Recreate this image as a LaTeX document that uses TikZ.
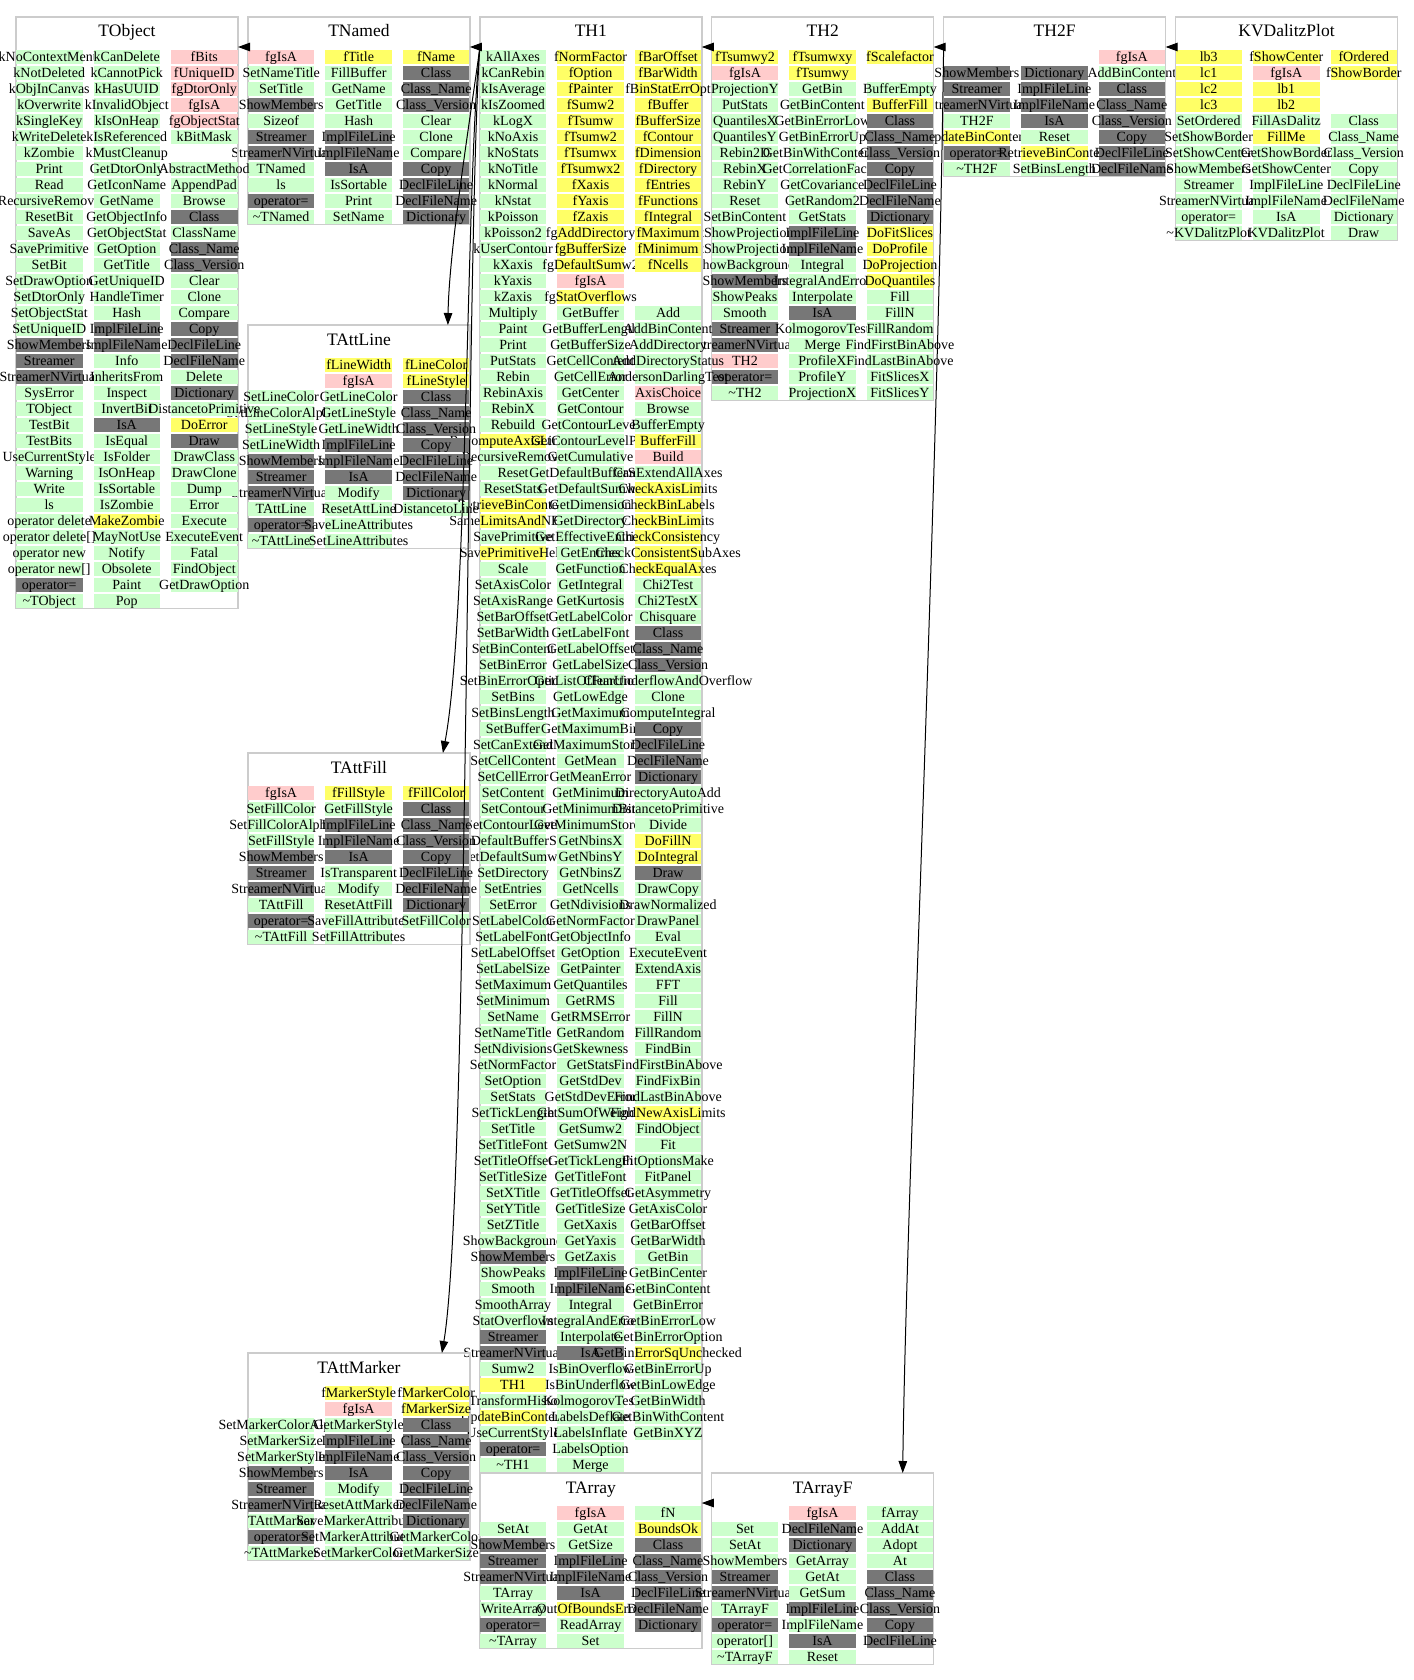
\documentclass[tikz,border=0pt]{standalone}
\usepackage{fontspec}
\setmainfont{Liberation Serif}
\usetikzlibrary{arrows.meta}
\definecolor{cg}{RGB}{204,255,204}
\definecolor{cp}{RGB}{255,204,204}
\definecolor{cy}{RGB}{255,255,102}
\definecolor{cd}{RGB}{119,119,119}
\definecolor{boxc}{RGB}{204,204,204}
\tikzset{
  frame/.style={draw=boxc, line width=1.5pt, minimum width=222pt, inner sep=0pt, outer sep=0pt, anchor=north west},
  titletext/.style={font=\fontsize{17.5}{18}\selectfont, anchor=base, inner sep=0pt},
  celltext/.style={font=\fontsize{14}{14}\selectfont, anchor=base, inner sep=0pt},
  inh/.style={draw=black, line width=1pt, -{Triangle[length=12pt,width=8.5pt]}}
}
\newcommand\tcol[3]{%
  \foreach \cellc/\celltxt [count=\ri from 0] in {#3}{%
    \if n\cellc\else
      \fill[fill=c\cellc] (#1,#2+16*\ri-7.25) rectangle ++(66.5,14.5);
      \node[celltext] at (#1+33.25,#2+16*\ri+4.6) {\celltxt};
    \fi
  }%
}
\newcommand\cls[7]{%
  \node[frame, minimum height={47.5+16*(#4-1)}] (#1) at (#2,#3) {};
  \node[titletext] at (#2+111,#3+20) {#1};
  \tcol{#2}{#3+40}{#5}
  \tcol{#2+77.5}{#3+40}{#6}
  \tcol{#2+155}{#3+40}{#7}
}
\begin{document}
\begin{tikzpicture}[x=1pt,y=-1pt]
\useasboundingbox (0,0) rectangle (1413,1680);
\fill[white] (0,0) rectangle (1413,1680);

% TH2F
\cls{TH2F}{943.6}{17}{8}
{n/, d/ShowMembers, d/Streamer, d/StreamerNVirtual, g/TH2F, y/UpdateBinContent, d/operator=, g/\textasciitilde TH2F}
{n/, d/Dictionary, d/ImplFileLine, d/ImplFileName, d/IsA, g/Reset, y/RetrieveBinContent, g/SetBinsLength}
{p/fgIsA, g/AddBinContent, d/Class, d/Class\_Name, d/Class\_Version, d/Copy, d/DeclFileLine, d/DeclFileName}

% TH2
\cls{TH2}{711.7}{17}{22}
{y/fTsumwy2, p/fgIsA, g/ProjectionY, g/PutStats, g/QuantilesX, g/QuantilesY, g/Rebin2D, g/RebinX, g/RebinY, g/Reset, g/SetBinContent, g/SetShowProjectionX, g/SetShowProjectionY, g/ShowBackground, d/ShowMembers, g/ShowPeaks, g/Smooth, d/Streamer, d/StreamerNVirtual, p/TH2, d/operator=, g/\textasciitilde TH2}
{y/fTsumwxy, y/fTsumwy, g/GetBin, g/GetBinContent, g/GetBinErrorLow, g/GetBinErrorUp, g/GetBinWithContent2, g/GetCorrelationFactor, g/GetCovariance, g/GetRandom2, g/GetStats, d/ImplFileLine, d/ImplFileName, g/Integral, g/IntegralAndError, g/Interpolate, d/IsA, g/KolmogorovTest, g/Merge, g/ProfileX, g/ProfileY, g/ProjectionX}
{y/fScalefactor, n/, g/BufferEmpty, y/BufferFill, d/Class, d/Class\_Name, d/Class\_Version, d/Copy, d/DeclFileLine, d/DeclFileName, d/Dictionary, y/DoFitSlices, y/DoProfile, y/DoProjection, y/DoQuantiles, g/Fill, g/FillN, g/FillRandom, g/FindFirstBinAbove, g/FindLastBinAbove, g/FitSlicesX, g/FitSlicesY}

% TH1
\cls{TH1}{479.8}{17}{89}
{g/kAllAxes, g/kCanRebin, g/kIsAverage, g/kIsZoomed, g/kLogX, g/kNoAxis, g/kNoStats, g/kNoTitle, g/kNormal, g/kNstat, g/kPoisson, g/kPoisson2, g/kUserContour, g/kXaxis, g/kYaxis, g/kZaxis, g/Multiply, g/Paint, g/Print, g/PutStats, g/Rebin, g/RebinAxis, g/RebinX, g/Rebuild, y/RecomputeAxisLimits, g/RecursiveRemove, g/Reset, g/ResetStats, y/RetrieveBinContent, y/SameLimitsAndNBins, g/SavePrimitive, y/SavePrimitiveHelp, g/Scale, g/SetAxisColor, g/SetAxisRange, g/SetBarOffset, g/SetBarWidth, g/SetBinContent, g/SetBinError, g/SetBinErrorOption, g/SetBins, g/SetBinsLength, g/SetBuffer, g/SetCanExtend, g/SetCellContent, g/SetCellError, g/SetContent, g/SetContour, g/SetContourLevel, g/SetDefaultBufferSize, g/SetDefaultSumw2, g/SetDirectory, g/SetEntries, g/SetError, g/SetLabelColor, g/SetLabelFont, g/SetLabelOffset, g/SetLabelSize, g/SetMaximum, g/SetMinimum, g/SetName, g/SetNameTitle, g/SetNdivisions, g/SetNormFactor, g/SetOption, g/SetStats, g/SetTickLength, g/SetTitle, g/SetTitleFont, g/SetTitleOffset, g/SetTitleSize, g/SetXTitle, g/SetYTitle, g/SetZTitle, g/ShowBackground, d/ShowMembers, g/ShowPeaks, g/Smooth, g/SmoothArray, g/StatOverflows, d/Streamer, d/StreamerNVirtual, g/Sumw2, y/TH1, g/TransformHisto, y/UpdateBinContent, g/UseCurrentStyle, d/operator=, g/\textasciitilde TH1}
{y/fNormFactor, y/fOption, y/fPainter, y/fSumw2, y/fTsumw, y/fTsumw2, y/fTsumwx, y/fTsumwx2, y/fXaxis, y/fYaxis, y/fZaxis, y/fgAddDirectory, y/fgBufferSize, y/fgDefaultSumw2, p/fgIsA, y/fgStatOverflows, g/GetBuffer, g/GetBufferLength, g/GetBufferSize, g/GetCellContent, g/GetCellError, g/GetCenter, g/GetContour, g/GetContourLevel, g/GetContourLevelPad, g/GetCumulative, g/GetDefaultBufferSize, g/GetDefaultSumw2, g/GetDimension, g/GetDirectory, g/GetEffectiveEntries, g/GetEntries, g/GetFunction, g/GetIntegral, g/GetKurtosis, g/GetLabelColor, g/GetLabelFont, g/GetLabelOffset, g/GetLabelSize, g/GetListOfFunctions, g/GetLowEdge, g/GetMaximum, g/GetMaximumBin, g/GetMaximumStored, g/GetMean, g/GetMeanError, g/GetMinimum, g/GetMinimumBin, g/GetMinimumStored, g/GetNbinsX, g/GetNbinsY, g/GetNbinsZ, g/GetNcells, g/GetNdivisions, g/GetNormFactor, g/GetObjectInfo, g/GetOption, g/GetPainter, g/GetQuantiles, g/GetRMS, g/GetRMSError, g/GetRandom, g/GetSkewness, g/GetStats, g/GetStdDev, g/GetStdDevError, g/GetSumOfWeights, g/GetSumw2, g/GetSumw2N, g/GetTickLength, g/GetTitleFont, g/GetTitleOffset, g/GetTitleSize, g/GetXaxis, g/GetYaxis, g/GetZaxis, d/ImplFileLine, d/ImplFileName, g/Integral, g/IntegralAndError, g/Interpolate, d/IsA, g/IsBinOverflow, g/IsBinUnderflow, g/KolmogorovTest, g/LabelsDeflate, g/LabelsInflate, g/LabelsOption, g/Merge}
{y/fBarOffset, y/fBarWidth, y/fBinStatErrOpt, y/fBuffer, y/fBufferSize, y/fContour, y/fDimension, y/fDirectory, y/fEntries, y/fFunctions, y/fIntegral, y/fMaximum, y/fMinimum, y/fNcells, n/, n/, g/Add, g/AddBinContent, g/AddDirectory, g/AddDirectoryStatus, g/AndersonDarlingTest, p/AxisChoice, g/Browse, g/BufferEmpty, y/BufferFill, p/Build, g/CanExtendAllAxes, y/CheckAxisLimits, y/CheckBinLabels, y/CheckBinLimits, y/CheckConsistency, y/CheckConsistentSubAxes, y/CheckEqualAxes, g/Chi2Test, g/Chi2TestX, g/Chisquare, d/Class, d/Class\_Name, d/Class\_Version, g/ClearUnderflowAndOverflow, g/Clone, g/ComputeIntegral, d/Copy, d/DeclFileLine, d/DeclFileName, d/Dictionary, g/DirectoryAutoAdd, g/DistancetoPrimitive, g/Divide, y/DoFillN, y/DoIntegral, d/Draw, g/DrawCopy, g/DrawNormalized, g/DrawPanel, g/Eval, g/ExecuteEvent, g/ExtendAxis, g/FFT, g/Fill, g/FillN, g/FillRandom, g/FindBin, g/FindFirstBinAbove, g/FindFixBin, g/FindLastBinAbove, y/FindNewAxisLimits, g/FindObject, g/Fit, g/FitOptionsMake, g/FitPanel, g/GetAsymmetry, g/GetAxisColor, g/GetBarOffset, g/GetBarWidth, g/GetBin, g/GetBinCenter, g/GetBinContent, g/GetBinError, g/GetBinErrorLow, g/GetBinErrorOption, y/GetBinErrorSqUnchecked, g/GetBinErrorUp, g/GetBinLowEdge, g/GetBinWidth, g/GetBinWithContent, g/GetBinXYZ}

% TAttLine
\cls{TAttLine}{247.9}{325}{12}
{n/, n/, g/SetLineColor, g/SetLineColorAlpha, g/SetLineStyle, g/SetLineWidth, d/ShowMembers, d/Streamer, d/StreamerNVirtual, g/TAttLine, d/operator=, g/\textasciitilde TAttLine}
{y/fLineWidth, p/fgIsA, g/GetLineColor, g/GetLineStyle, g/GetLineWidth, d/ImplFileLine, d/ImplFileName, d/IsA, g/Modify, g/ResetAttLine, g/SaveLineAttributes, g/SetLineAttributes}
{y/fLineColor, y/fLineStyle, d/Class, d/Class\_Name, d/Class\_Version, d/Copy, d/DeclFileLine, d/DeclFileName, d/Dictionary, g/DistancetoLine}

% TAttFill
\cls{TAttFill}{247.9}{753}{10}
{p/fgIsA, g/SetFillColor, g/SetFillColorAlpha, g/SetFillStyle, d/ShowMembers, d/Streamer, d/StreamerNVirtual, g/TAttFill, d/operator=, g/\textasciitilde TAttFill}
{y/fFillStyle, g/GetFillStyle, d/ImplFileLine, d/ImplFileName, d/IsA, g/IsTransparent, g/Modify, g/ResetAttFill, g/SaveFillAttributes, g/SetFillAttributes}
{y/fFillColor, d/Class, d/Class\_Name, d/Class\_Version, d/Copy, d/DeclFileLine, d/DeclFileName, d/Dictionary, g/SetFillColor}

% TAttMarker
\cls{TAttMarker}{247.9}{1353}{11}
{n/, n/, g/SetMarkerColorAlpha, g/SetMarkerSize, g/SetMarkerStyle, d/ShowMembers, d/Streamer, d/StreamerNVirtual, g/TAttMarker, d/operator=, g/\textasciitilde TAttMarker}
{y/fMarkerStyle, p/fgIsA, g/GetMarkerStyle, d/ImplFileLine, d/ImplFileName, d/IsA, g/Modify, g/ResetAttMarker, g/SaveMarkerAttributes, g/SetMarkerAttributes, g/SetMarkerColor}
{y/fMarkerColor, y/fMarkerSize, d/Class, d/Class\_Name, d/Class\_Version, d/Copy, d/DeclFileLine, d/DeclFileName, d/Dictionary, g/GetMarkerColor, g/GetMarkerSize}

% TNamed
\cls{TNamed}{247.9}{17}{11}
{p/fgIsA, g/SetNameTitle, g/SetTitle, d/ShowMembers, g/Sizeof, d/Streamer, d/StreamerNVirtual, g/TNamed, g/ls, d/operator=, g/\textasciitilde TNamed}
{y/fTitle, g/FillBuffer, g/GetName, g/GetTitle, g/Hash, d/ImplFileLine, d/ImplFileName, d/IsA, g/IsSortable, g/Print, g/SetName}
{y/fName, d/Class, d/Class\_Name, d/Class\_Version, g/Clear, g/Clone, g/Compare, d/Copy, d/DeclFileLine, d/DeclFileName, d/Dictionary}

% TObject
\cls{TObject}{16}{17}{35}
{g/kNoContextMenu, g/kNotDeleted, g/kObjInCanvas, g/kOverwrite, g/kSingleKey, g/kWriteDelete, g/kZombie, g/Print, g/Read, g/RecursiveRemove, g/ResetBit, g/SaveAs, g/SavePrimitive, g/SetBit, g/SetDrawOption, g/SetDtorOnly, g/SetObjectStat, g/SetUniqueID, d/ShowMembers, d/Streamer, d/StreamerNVirtual, g/SysError, g/TObject, g/TestBit, g/TestBits, g/UseCurrentStyle, g/Warning, g/Write, g/ls, g/operator delete, g/operator delete[], g/operator new, g/operator new[], d/operator=, g/\textasciitilde TObject}
{g/kCanDelete, g/kCannotPick, g/kHasUUID, g/kInvalidObject, g/kIsOnHeap, g/kIsReferenced, g/kMustCleanup, g/GetDtorOnly, g/GetIconName, g/GetName, g/GetObjectInfo, g/GetObjectStat, g/GetOption, g/GetTitle, g/GetUniqueID, g/HandleTimer, g/Hash, d/ImplFileLine, d/ImplFileName, g/Info, g/InheritsFrom, g/Inspect, g/InvertBit, d/IsA, g/IsEqual, g/IsFolder, g/IsOnHeap, g/IsSortable, g/IsZombie, y/MakeZombie, g/MayNotUse, g/Notify, g/Obsolete, g/Paint, g/Pop}
{p/fBits, p/fUniqueID, p/fgDtorOnly, p/fgIsA, p/fgObjectStat, g/kBitMask, n/, g/AbstractMethod, g/AppendPad, g/Browse, d/Class, g/ClassName, d/Class\_Name, d/Class\_Version, g/Clear, g/Clone, g/Compare, d/Copy, d/DeclFileLine, d/DeclFileName, g/Delete, d/Dictionary, g/DistancetoPrimitive, y/DoError, d/Draw, g/DrawClass, g/DrawClone, g/Dump, g/Error, g/Execute, g/ExecuteEvent, g/Fatal, g/FindObject, g/GetDrawOption}

% TArray
\cls{TArray}{479.8}{1473}{9}
{n/, g/SetAt, d/ShowMembers, d/Streamer, d/StreamerNVirtual, g/TArray, g/WriteArray, d/operator=, g/\textasciitilde TArray}
{p/fgIsA, g/GetAt, g/GetSize, d/ImplFileLine, d/ImplFileName, d/IsA, y/OutOfBoundsError, g/ReadArray, g/Set}
{g/fN, y/BoundsOk, d/Class, d/Class\_Name, d/Class\_Version, d/DeclFileLine, d/DeclFileName, d/Dictionary}

% TArrayF
\cls{TArrayF}{711.7}{1473}{10}
{n/, g/Set, g/SetAt, g/ShowMembers, d/Streamer, d/StreamerNVirtual, g/TArrayF, d/operator=, g/operator[], g/\textasciitilde TArrayF}
{p/fgIsA, d/DeclFileName, d/Dictionary, g/GetArray, g/GetAt, g/GetSum, d/ImplFileLine, g/ImplFileName, d/IsA, g/Reset}
{g/fArray, g/AddAt, g/Adopt, g/At, d/Class, d/Class\_Name, d/Class\_Version, d/Copy, d/DeclFileLine}

% KVDalitzPlot
\cls{KVDalitzPlot}{1175.5}{17}{12}
{y/lb3, y/lc1, y/lc2, y/lc3, g/SetOrdered, g/SetShowBorder, g/SetShowCenter, g/ShowMembers, g/Streamer, g/StreamerNVirtual, g/operator=, g/\textasciitilde KVDalitzPlot}
{y/fShowCenter, p/fgIsA, y/lb1, y/lb2, g/FillAsDalitz, y/FillMe, g/GetShowBorder, g/GetShowCenter, g/ImplFileLine, g/ImplFileName, g/IsA, g/KVDalitzPlot}
{y/fOrdered, y/fShowBorder, n/, n/, g/Class, g/Class\_Name, g/Class\_Version, g/Copy, g/DeclFileLine, g/DeclFileName, g/Dictionary, g/Draw}

% inheritance connectors
\draw[inh] ([yshift=-30pt]TNamed.north west) -- ([yshift=-30pt]TObject.north east);
\draw[inh] ([yshift=-30pt]TH1.north west) -- ([yshift=-30pt]TNamed.north east);
\draw[inh] ([yshift=-30pt]TH2.north west) -- ([yshift=-30pt]TH1.north east);
\draw[inh] ([yshift=-30pt]TH2F.north west) -- ([yshift=-30pt]TH2.north east);
\draw[inh] ([yshift=-30pt]KVDalitzPlot.north west) -- ([yshift=-30pt]TH2F.north east);
\draw[inh] ([yshift=-30pt]TArrayF.north west) -- ([yshift=-30pt]TArray.north east);
\draw[inh] ([yshift=-31pt]TH1.north west) .. controls (470,120) and (449,250) .. ([xshift=-22pt]TAttLine.north east);
\draw[inh] ([yshift=-31pt]TH1.north west) .. controls (466,180) and (468,620) .. ([xshift=-27pt]TAttFill.north east);
\draw[inh] ([yshift=-31pt]TH1.north west) .. controls (466,250) and (468,1200) .. ([xshift=-28pt]TAttMarker.north east);
\draw[inh] ([yshift=-31pt]TH2F.north west) .. controls (938,500) and (906,1200) .. ([xshift=-31pt]TArrayF.north east);
\end{tikzpicture}
\end{document}
